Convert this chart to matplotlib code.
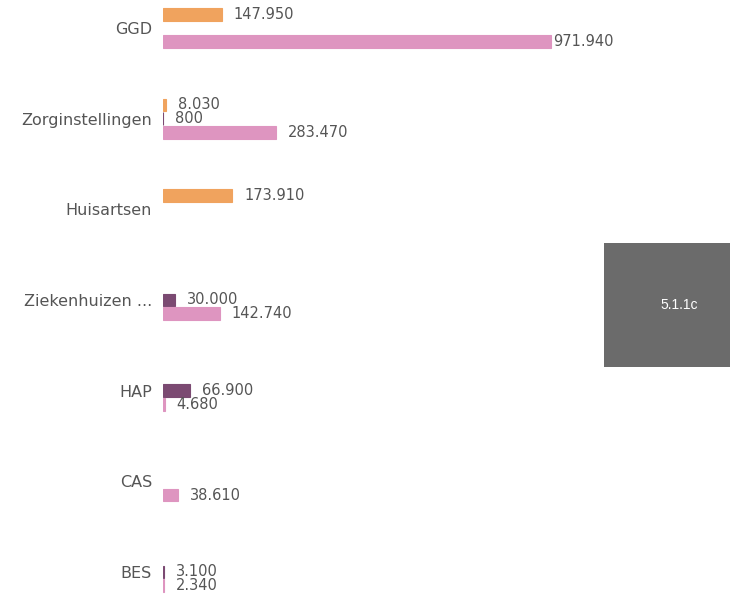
import numpy as np
import matplotlib
matplotlib.use('Agg')
import matplotlib.pyplot as plt
import matplotlib.patches as mpatches

# Categories, top to bottom
categories = ['GGD', 'Zorginstellingen', 'Huisartsen', 'Ziekenhuizen ...',
              'HAP', 'CAS', 'BES']

# Three series per category (None = no bar)
serie_oranje = [147950, 8030, 173910, None, None, None, None]
serie_paars = [None, 800, None, 30000, 66900, None, 3100]
serie_roze = [971940, 283470, None, 142740, 4680, 38610, 2340]

series = [serie_oranje, serie_paars, serie_roze]
colors = ['#F0A35E', '#7B4A72', '#DE95C0']


def fmt_nl(v):
    return '{:,}'.format(int(v)).replace(',', '.')


fig = plt.figure(figsize=(7.3, 5.97), dpi=100)
ax = fig.add_axes([163 / 730, 0, 439 / 730, 1])

y = np.arange(len(categories))
slot = 0.152
height = 0.14

for i, (vals, col) in enumerate(zip(series, colors)):
    offs = (i - 1) * slot
    for j, v in enumerate(vals):
        if v is None:
            continue
        # thin edge so that the tiny values still show as a line
        ax.barh(y[j] + offs, v, height=height, color=col,
                edgecolor=col, linewidth=0.8)
        # the longest bar has its label almost against the bar
        dx = 1.5 if v > 900000 else 8.5
        ax.annotate(fmt_nl(v), (v, y[j] + offs), xytext=(dx, 0),
                    textcoords='offset points', va='center', ha='left',
                    fontsize=10.5, color='#555555',
                    family='DejaVu Sans')

ax.set_xlim(0, 1100000)
ax.set_ylim(6.276, -0.309)
ax.set_yticks(y)
ax.set_yticklabels(categories, fontsize=11.5, color='#555555')
ax.tick_params(axis='y', length=0, pad=8)
ax.set_xticks([])
for s in ax.spines.values():
    s.set_visible(False)

# gray tag box at the right
box = mpatches.Rectangle((604 / 730, 1 - 367 / 597), 126 / 730, 124 / 597,
                         transform=fig.transFigure, color='#6B6B6B', lw=0)
fig.patches.append(box)
fig.text(679 / 730, 1 - 305 / 597, '5.1.1c', color='white', fontsize=10,
         ha='center', va='center', family='Liberation Sans')

fig.savefig('out.png', dpi=100)
